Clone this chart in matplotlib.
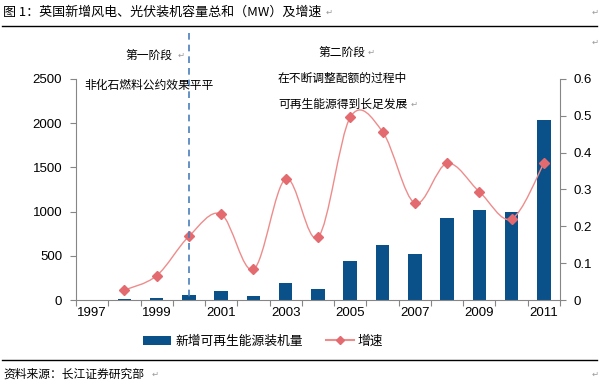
import numpy as np
import matplotlib
matplotlib.use('Agg')
import matplotlib.pyplot as plt
from matplotlib.path import Path
from matplotlib.patches import PathPatch
from matplotlib.lines import Line2D
from matplotlib.patches import Patch

plt.rcParams['font.family'] = ['Liberation Sans', 'Noto Sans CJK SC', 'DejaVu Sans']
CJK = ['Noto Sans CJK SC', 'DejaVu Sans']

# data
years = [str(y) for y in range(1997, 2012)]
capacity = [0, 10, 25, 60, 105, 45, 192, 126, 441, 622, 520, 927, 1018, 995, 2036]
growth_years = years[1:]
growth = [0.027, 0.066, 0.173, 0.233, 0.083, 0.329, 0.170, 0.496, 0.457,
          0.263, 0.371, 0.294, 0.220, 0.371]

bar_color = '#0b5189'
line_color = '#ee8c8c'
marker_color = '#e36a6e'
mark_color = '#9a9a9a'


def smooth_path(xs, ys):
    # Excel-style smoothed line: Bezier segments, Catmull-Rom control points
    xs = np.asarray(xs, float)
    ys = np.asarray(ys, float)
    n = len(xs)
    verts = [(xs[0], ys[0])]
    codes = [Path.MOVETO]
    for i in range(n - 1):
        p0 = (xs[max(i - 1, 0)], ys[max(i - 1, 0)])
        p1 = (xs[i], ys[i])
        p2 = (xs[i + 1], ys[i + 1])
        p3 = (xs[min(i + 2, n - 1)], ys[min(i + 2, n - 1)])
        c1 = (p1[0] + (p2[0] - p0[0]) / 6, p1[1] + (p2[1] - p0[1]) / 6)
        c2 = (p2[0] - (p3[0] - p1[0]) / 6, p2[1] - (p3[1] - p1[1]) / 6)
        verts += [c1, c2, p2]
        codes += [Path.CURVE4] * 3
    return Path(verts, codes)


def px(xp, yp):
    return xp / 608, 1 - yp / 388


fig = plt.figure(figsize=(6.08, 3.88), dpi=100)
ax = fig.add_axes([0.125, 0.2268, 0.796, 0.5696])
ax2 = ax.twinx()

x = np.arange(len(years))
ax.bar(x, capacity, width=0.42, color=bar_color, zorder=2)
ax.set_xlim(-0.5, len(years) - 0.5)
ax.set_ylim(0, 2500)
ax.set_yticks(range(0, 2501, 500))
ax.set_xticks(np.arange(-0.5, len(years), 1), minor=False)
ax.set_xticklabels([])
ax.set_xticks(x[::2], minor=True)
ax.set_xticklabels(years[::2], minor=True)
ax.tick_params(axis='x', which='minor', length=0, pad=5, labelsize=9.5)
ax.tick_params(axis='x', which='major', length=4, color='#868686', direction='out')
ax.tick_params(axis='y', length=4, color='#868686', labelsize=9.5, pad=6)

gx = x[1:]
ax2.add_patch(PathPatch(smooth_path(gx, growth), facecolor='none',
                        edgecolor=line_color, lw=1.0, zorder=3))
ax2.plot(gx, growth, linestyle='none', marker='D', ms=5.5,
         color=marker_color, zorder=4)
ax2.set_ylim(0, 0.6)
ax2.set_yticks(np.arange(0, 0.61, 0.1))
ax2.set_yticklabels(['0'] + ['%.1f' % v for v in np.arange(0.1, 0.61, 0.1)])
ax2.tick_params(axis='y', length=4, color='#868686', labelsize=9.5, pad=6)

for a in (ax, ax2):
    a.spines['top'].set_visible(False)
    for s in ('left', 'right', 'bottom'):
        a.spines[s].set_color('#868686')
ax.spines['right'].set_visible(False)
ax2.spines['left'].set_visible(False)
ax2.spines['bottom'].set_visible(False)

# phase divider
fig.add_artist(Line2D([189 / 608, 189 / 608], [1 - 33 / 388, 1 - 300 / 388],
                      color='#4a7ebb', lw=1.2, ls=(0, (4, 3))))

# annotations
fig.text(*px(125, 55), '第一阶段', family=CJK, fontsize=8.5, va='center')
fig.text(*px(84, 86), '非化石燃料公约效果平平', family=CJK, fontsize=8.5, va='center')
fig.text(*px(318, 52), '第二阶段', family=CJK, fontsize=8.5, va='center')
fig.text(*px(278, 78), '在不断调整配额的过程中', family=CJK, fontsize=8.5, va='center')
fig.text(*px(278, 104), '可再生能源得到长足发展', family=CJK, fontsize=8.5, va='center')

# title and source
title = fig.text(*px(3, 12), '图 1：英国新增风电、光伏装机容量总和（MW）及增速',
                 family=CJK, fontsize=9.4, va='center')
fig.add_artist(Line2D([2 / 608, 597 / 608], [1 - 26 / 388, 1 - 26 / 388], color='black', lw=1))
fig.add_artist(Line2D([2 / 608, 597 / 608], [1 - 360 / 388, 1 - 360 / 388], color='black', lw=1))
fig.text(*px(3, 374), '资料来源：长江证券研究部', family=CJK, fontsize=8.5, va='center')

# paragraph marks from the source document
fig.text(1.0, 0, '', transform=fig.transFigure)
plt.annotate('↵', xy=(1, 0.5), xycoords=title, xytext=(3, 0),
             textcoords='offset points', va='center', fontsize=6,
             color=mark_color, family=['DejaVu Sans'])
for xp, yp in [(178, 55), (368, 52), (411, 104), (592, 12),
               (592, 42), (152, 374), (592, 374)]:
    fig.text(*px(xp, yp), '↵', family=['DejaVu Sans'], fontsize=6,
             color=mark_color, va='center')

# legend
handles = [Patch(facecolor=bar_color),
           Line2D([], [], color=line_color, marker='D', ms=4,
                  markerfacecolor=marker_color, markeredgecolor=marker_color)]
leg = fig.legend(handles, ['新增可再生能源装机量', '增速'], loc='center',
                 bbox_to_anchor=(0.433, 1 - 341 / 388), ncol=2, frameon=False,
                 prop={'family': CJK, 'size': 9.2}, handlelength=2.2,
                 handletextpad=0.3, columnspacing=1.8)

fig.savefig('out.png', dpi=100)
